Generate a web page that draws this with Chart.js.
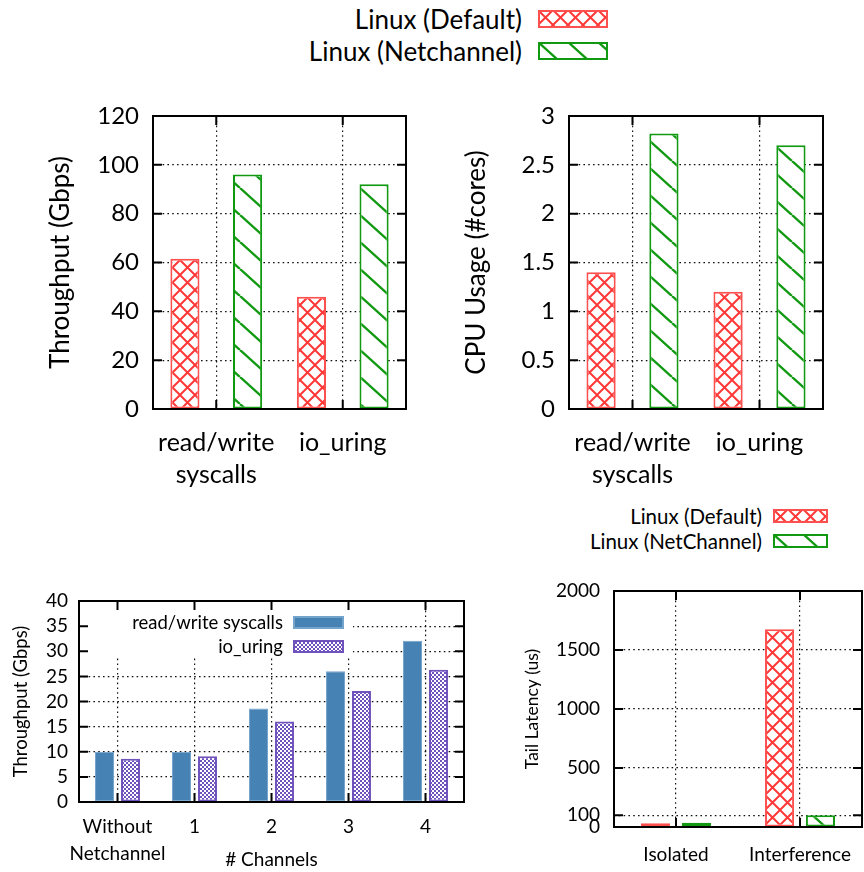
<!DOCTYPE html>
<html>
<head>
<meta charset="utf-8">
<script src="https://cdn.jsdelivr.net/npm/chart.js@4.4.1/dist/chart.umd.min.js"></script>
<style>
  body { margin: 0; background: #fff; }
  #page { position: relative; width: 864px; height: 872px; overflow: hidden; font-family: Lato, sans-serif; color: #000; }
  canvas.chart { position: absolute; }
  .key { position: absolute; white-space: nowrap; text-align: right; line-height: 1; }
  .swatch { position: absolute; }
</style>
</head>
<body>
<div id="page">
  <canvas class="chart" id="tput" width="432" height="420" style="left:0;top:80px"></canvas>
  <canvas class="chart" id="cpu" width="432" height="420" style="left:432px;top:80px"></canvas>
  <canvas class="chart" id="chan" width="480" height="292" style="left:0;top:580px"></canvas>
  <canvas class="chart" id="lat" width="384" height="302" style="left:480px;top:570px"></canvas>
</div>
<script>
// ---- data ----
const topCategories = [['read/write', 'syscalls'], 'io_uring'];
const tputDefault = [61.5, 46];
const tputNetchannel = [96, 92];
const tputTicks = [0, 20, 40, 60, 80, 100, 120];

const cpuDefault = [1.4, 1.2];
const cpuNetchannel = [2.82, 2.7];
const cpuTicks = [0, 0.5, 1, 1.5, 2, 2.5, 3];

const channelCategories = [['Without', 'Netchannel'], '1', '2', '3', '4'];
const rwSyscalls = [10, 10, 18.6, 26, 32.1];
const ioUring = [8.6, 9.1, 16, 22.1, 26.3];
const channelTicks = [0, 5, 10, 15, 20, 25, 30, 35, 40];

const latencyCategories = ['Isolated', 'Interference'];
const latencyDefault = [31, 1675];
const latencyNetchannel = [36, 99];
const latencyTicks = [0, 100, 500, 1000, 1500, 2000];

const RED = '#ff3838';
const GREEN = '#119a11';
const BLUE = '#4682b4';
const PURPLE = '#7052bd';

Chart.defaults.font.family = 'Lato, sans-serif';
Chart.defaults.color = '#000';
Chart.defaults.animation = false;

// fill patterns like gnuplot's
function makePattern(ctx, kind) {
  const t = document.createElement('canvas');
  const c = t.getContext('2d');
  if (kind === 'cross') {
    t.width = 15; t.height = 15;
    c.fillStyle = '#fff'; c.fillRect(0, 0, 15, 15);
    c.strokeStyle = RED; c.lineWidth = 2;
    c.beginPath();
    for (const d of [-15, 0, 15]) {
      c.moveTo(d, 0); c.lineTo(d + 15, 15);
      c.moveTo(d + 15, 0); c.lineTo(d, 15);
    }
    c.stroke();
  } else if (kind === 'hatch') {
    t.width = 30; t.height = 27;
    c.fillStyle = '#fff'; c.fillRect(0, 0, 30, 27);
    c.strokeStyle = GREEN; c.lineWidth = 2.4;
    c.beginPath();
    for (const d of [-30, 0, 30]) { c.moveTo(d, 0); c.lineTo(d + 30, 27); }
    c.stroke();
  } else {
    t.width = 4; t.height = 4;
    c.fillStyle = '#fff'; c.fillRect(0, 0, 4, 4);
    c.fillStyle = PURPLE;
    c.fillRect(0, 0, 2, 2); c.fillRect(2, 2, 2, 2);
  }
  return ctx.createPattern(t, 'repeat');
}

// box frame and inward tics, drawn over the bars
const frame = {
  id: 'frame',
  beforeDatasetsDraw(chart, args, opts) {
    if (!opts.keyBox) return;
    const { ctx, chartArea: a } = chart;
    ctx.save();
    ctx.fillStyle = '#fff';
    ctx.fillRect(a.left, a.top, opts.keyBox[0], opts.keyBox[1]);
    ctx.restore();
  },
  afterDatasetsDraw(chart, args, opts) {
    const { ctx, chartArea: a, scales: { x, y } } = chart;
    const L = opts.tick || 9;
    ctx.save();
    ctx.strokeStyle = '#000';
    ctx.lineWidth = opts.width || 2;
    ctx.beginPath();
    y.ticks.forEach(t => {
      const py = y.getPixelForValue(t.value);
      ctx.moveTo(a.left, py); ctx.lineTo(a.left + L, py);
      ctx.moveTo(a.right, py); ctx.lineTo(a.right - L, py);
    });
    x.ticks.forEach((t, i) => {
      const px = x.getPixelForTick(i);
      ctx.moveTo(px, a.bottom); ctx.lineTo(px, a.bottom - L);
      ctx.moveTo(px, a.top); ctx.lineTo(px, a.top + L);
    });
    ctx.stroke();
    ctx.strokeRect(a.left, a.top, a.right - a.left, a.bottom - a.top);
    ctx.restore();
  }
};

function dotted(min, max) {
  return {
    color: c => (c.tick && (c.tick.value === min || c.tick.value === max)) ? 'rgba(0,0,0,0)' : '#111',
    lineWidth: 1.2,
    drawTicks: false
  };
}

function makeChart(id, cfg) {
  const cv = document.getElementById(id);
  const ctx = cv.getContext('2d');
  return new Chart(ctx, {
    type: 'bar',
    data: { labels: cfg.labels, datasets: cfg.datasets(ctx) },
    options: {
      responsive: false,
      events: [],
      layout: { padding: cfg.padding },
      plugins: { legend: { display: false }, tooltip: { enabled: false }, frame: cfg.frame },
      datasets: { bar: { categoryPercentage: cfg.catPct, barPercentage: cfg.barPct, borderSkipped: false } },
      scales: {
        x: {
          grid: { display: true, offset: false, color: '#111', lineWidth: 1.2, drawTicks: false },
          border: { display: false, dash: [1.6, 3.2] },
          ticks: { font: { size: cfg.xFont, lineHeight: cfg.xLine }, padding: cfg.xPad, maxRotation: 0, autoSkip: false },
          title: cfg.xTitle || { display: false },
          afterFit: s => { s.height = cfg.xHeight; s.paddingLeft = 0; s.paddingRight = 0; }
        },
        y: {
          min: cfg.ticks[0],
          max: cfg.ticks[cfg.ticks.length - 1],
          afterBuildTicks: s => { s.ticks = cfg.ticks.map(v => ({ value: v })); },
          grid: dotted(cfg.ticks[0], cfg.ticks[cfg.ticks.length - 1]),
          border: { display: false, dash: [1.6, 3.2] },
          ticks: { font: { size: cfg.yFont }, padding: cfg.yPad, autoSkip: false, callback: v => String(v) },
          title: {
            display: true, text: cfg.yTitle, font: { size: cfg.yTitleFont },
            padding: { top: cfg.yTitlePad, bottom: 0 }
          },
          afterFit: s => { s.width = cfg.yWidth; s.paddingTop = 0; s.paddingBottom = 0; }
        }
      }
    },
    plugins: [frame]
  });
}

const redHatch = ctx => ({ backgroundColor: makePattern(ctx, 'cross'), borderColor: '#ff5050', borderWidth: 2 });
const greenHatch = ctx => ({ backgroundColor: makePattern(ctx, 'hatch'), borderColor: GREEN, borderWidth: 2 });

makeChart('tput', {
  labels: topCategories,
  datasets: ctx => [
    { label: 'Linux (Default)', data: tputDefault, ...redHatch(ctx) },
    { label: 'Linux (Netchannel)', data: tputNetchannel, ...greenHatch(ctx) }
  ],
  ticks: tputTicks,
  padding: { left: 0, top: 36, right: 26, bottom: 0 },
  catPct: 0.99, barPct: 0.465,
  xHeight: 91, yWidth: 153,
  xFont: 25, xLine: 1.28, xPad: 18,
  yFont: 24, yPad: 14,
  yTitle: 'Throughput (Gbps)', yTitleFont: 26, yTitlePad: 45,
  frame: { tick: 9, width: 2 }
});

makeChart('cpu', {
  labels: topCategories,
  datasets: ctx => [
    { label: 'Linux (Default)', data: cpuDefault, ...redHatch(ctx) },
    { label: 'Linux (Netchannel)', data: cpuNetchannel, ...greenHatch(ctx) }
  ],
  ticks: cpuTicks,
  padding: { left: 0, top: 36, right: 41, bottom: 0 },
  catPct: 0.99, barPct: 0.465,
  xHeight: 91, yWidth: 137,
  xFont: 25, xLine: 1.28, xPad: 18,
  yFont: 24, yPad: 14,
  yTitle: 'CPU Usage (#cores)', yTitleFont: 26, yTitlePad: 29,
  frame: { tick: 9, width: 2 }
});

makeChart('chan', {
  labels: channelCategories,
  datasets: ctx => [
    { label: 'read/write syscalls', data: rwSyscalls, backgroundColor: BLUE, borderColor: '#74a3cc', borderWidth: 1 },
    { label: 'io_uring', data: ioUring, backgroundColor: makePattern(ctx, 'check'), borderColor: PURPLE, borderWidth: 2 }
  ],
  ticks: channelTicks,
  padding: { left: 0, top: 21, right: 16, bottom: 0 },
  catPct: 0.675, barPct: 0.73,
  xHeight: 70, yWidth: 79,
  xFont: 19, xLine: 1.4, xPad: 12,
  xTitle: { display: true, text: '# Channels', font: { size: 19 }, padding: { top: 0, bottom: 1 } },
  yFont: 19, yPad: 11,
  yTitle: 'Throughput (Gbps)', yTitleFont: 18.5, yTitlePad: 10,
  frame: { tick: 9, width: 2, keyBox: [274, 56] }
});

makeChart('lat', {
  labels: latencyCategories,
  datasets: ctx => [
    { label: 'Linux (Default)', data: latencyDefault, ...redHatch(ctx) },
    { label: 'Linux (NetChannel)', data: latencyNetchannel, ...greenHatch(ctx) }
  ],
  ticks: latencyTicks,
  padding: { left: 0, top: 21, right: 2, bottom: 0 },
  catPct: 0.66, barPct: 0.71,
  xHeight: 45, yWidth: 134,
  xFont: 19, xLine: 1.2, xPad: 16,
  yFont: 19, yPad: 14,
  yTitle: 'Tail Latency (us)', yTitleFont: 17.5, yTitlePad: 42,
  frame: { tick: 9, width: 2 }
});

// ---- keys (text left, swatch right, as gnuplot draws them) ----
const page = document.getElementById('page');
function key(text, right, cy, size, sw) {
  const d = document.createElement('div');
  d.className = 'key';
  d.textContent = text;
  d.style.fontSize = size + 'px';
  d.style.right = (864 - right) + 'px';
  d.style.top = (cy - size / 2) + 'px';
  page.appendChild(d);
  const c = document.createElement('canvas');
  c.className = 'swatch';
  c.width = sw.w; c.height = sw.h;
  c.style.left = sw.x + 'px';
  c.style.top = (cy - sw.h / 2) + 'px';
  const g = c.getContext('2d');
  g.fillStyle = sw.kind === 'solid' ? BLUE : makePattern(g, sw.kind);
  g.fillRect(0, 0, sw.w, sw.h);
  g.strokeStyle = sw.border;
  g.lineWidth = 2;
  g.strokeRect(1, 1, sw.w - 2, sw.h - 2);
  page.appendChild(c);
}
key('Linux (Default)', 522, 19, 26, { x: 538, w: 70, h: 18, kind: 'cross', border: '#ff5050' });
key('Linux (Netchannel)', 522, 51, 26, { x: 538, w: 70, h: 18, kind: 'hatch', border: GREEN });
key('Linux (Default)', 762, 516, 20.5, { x: 773, w: 55, h: 14, kind: 'cross', border: '#ff5050' });
key('Linux (NetChannel)', 762, 541, 20.5, { x: 773, w: 55, h: 14, kind: 'hatch', border: GREEN });
key('read/write syscalls', 283, 622, 18.5, { x: 293, w: 51, h: 13, kind: 'solid', border: '#74a3cc' });
key('io_uring', 283, 646, 18.5, { x: 293, w: 51, h: 13, kind: 'check', border: PURPLE });
</script>
</body>
</html>
